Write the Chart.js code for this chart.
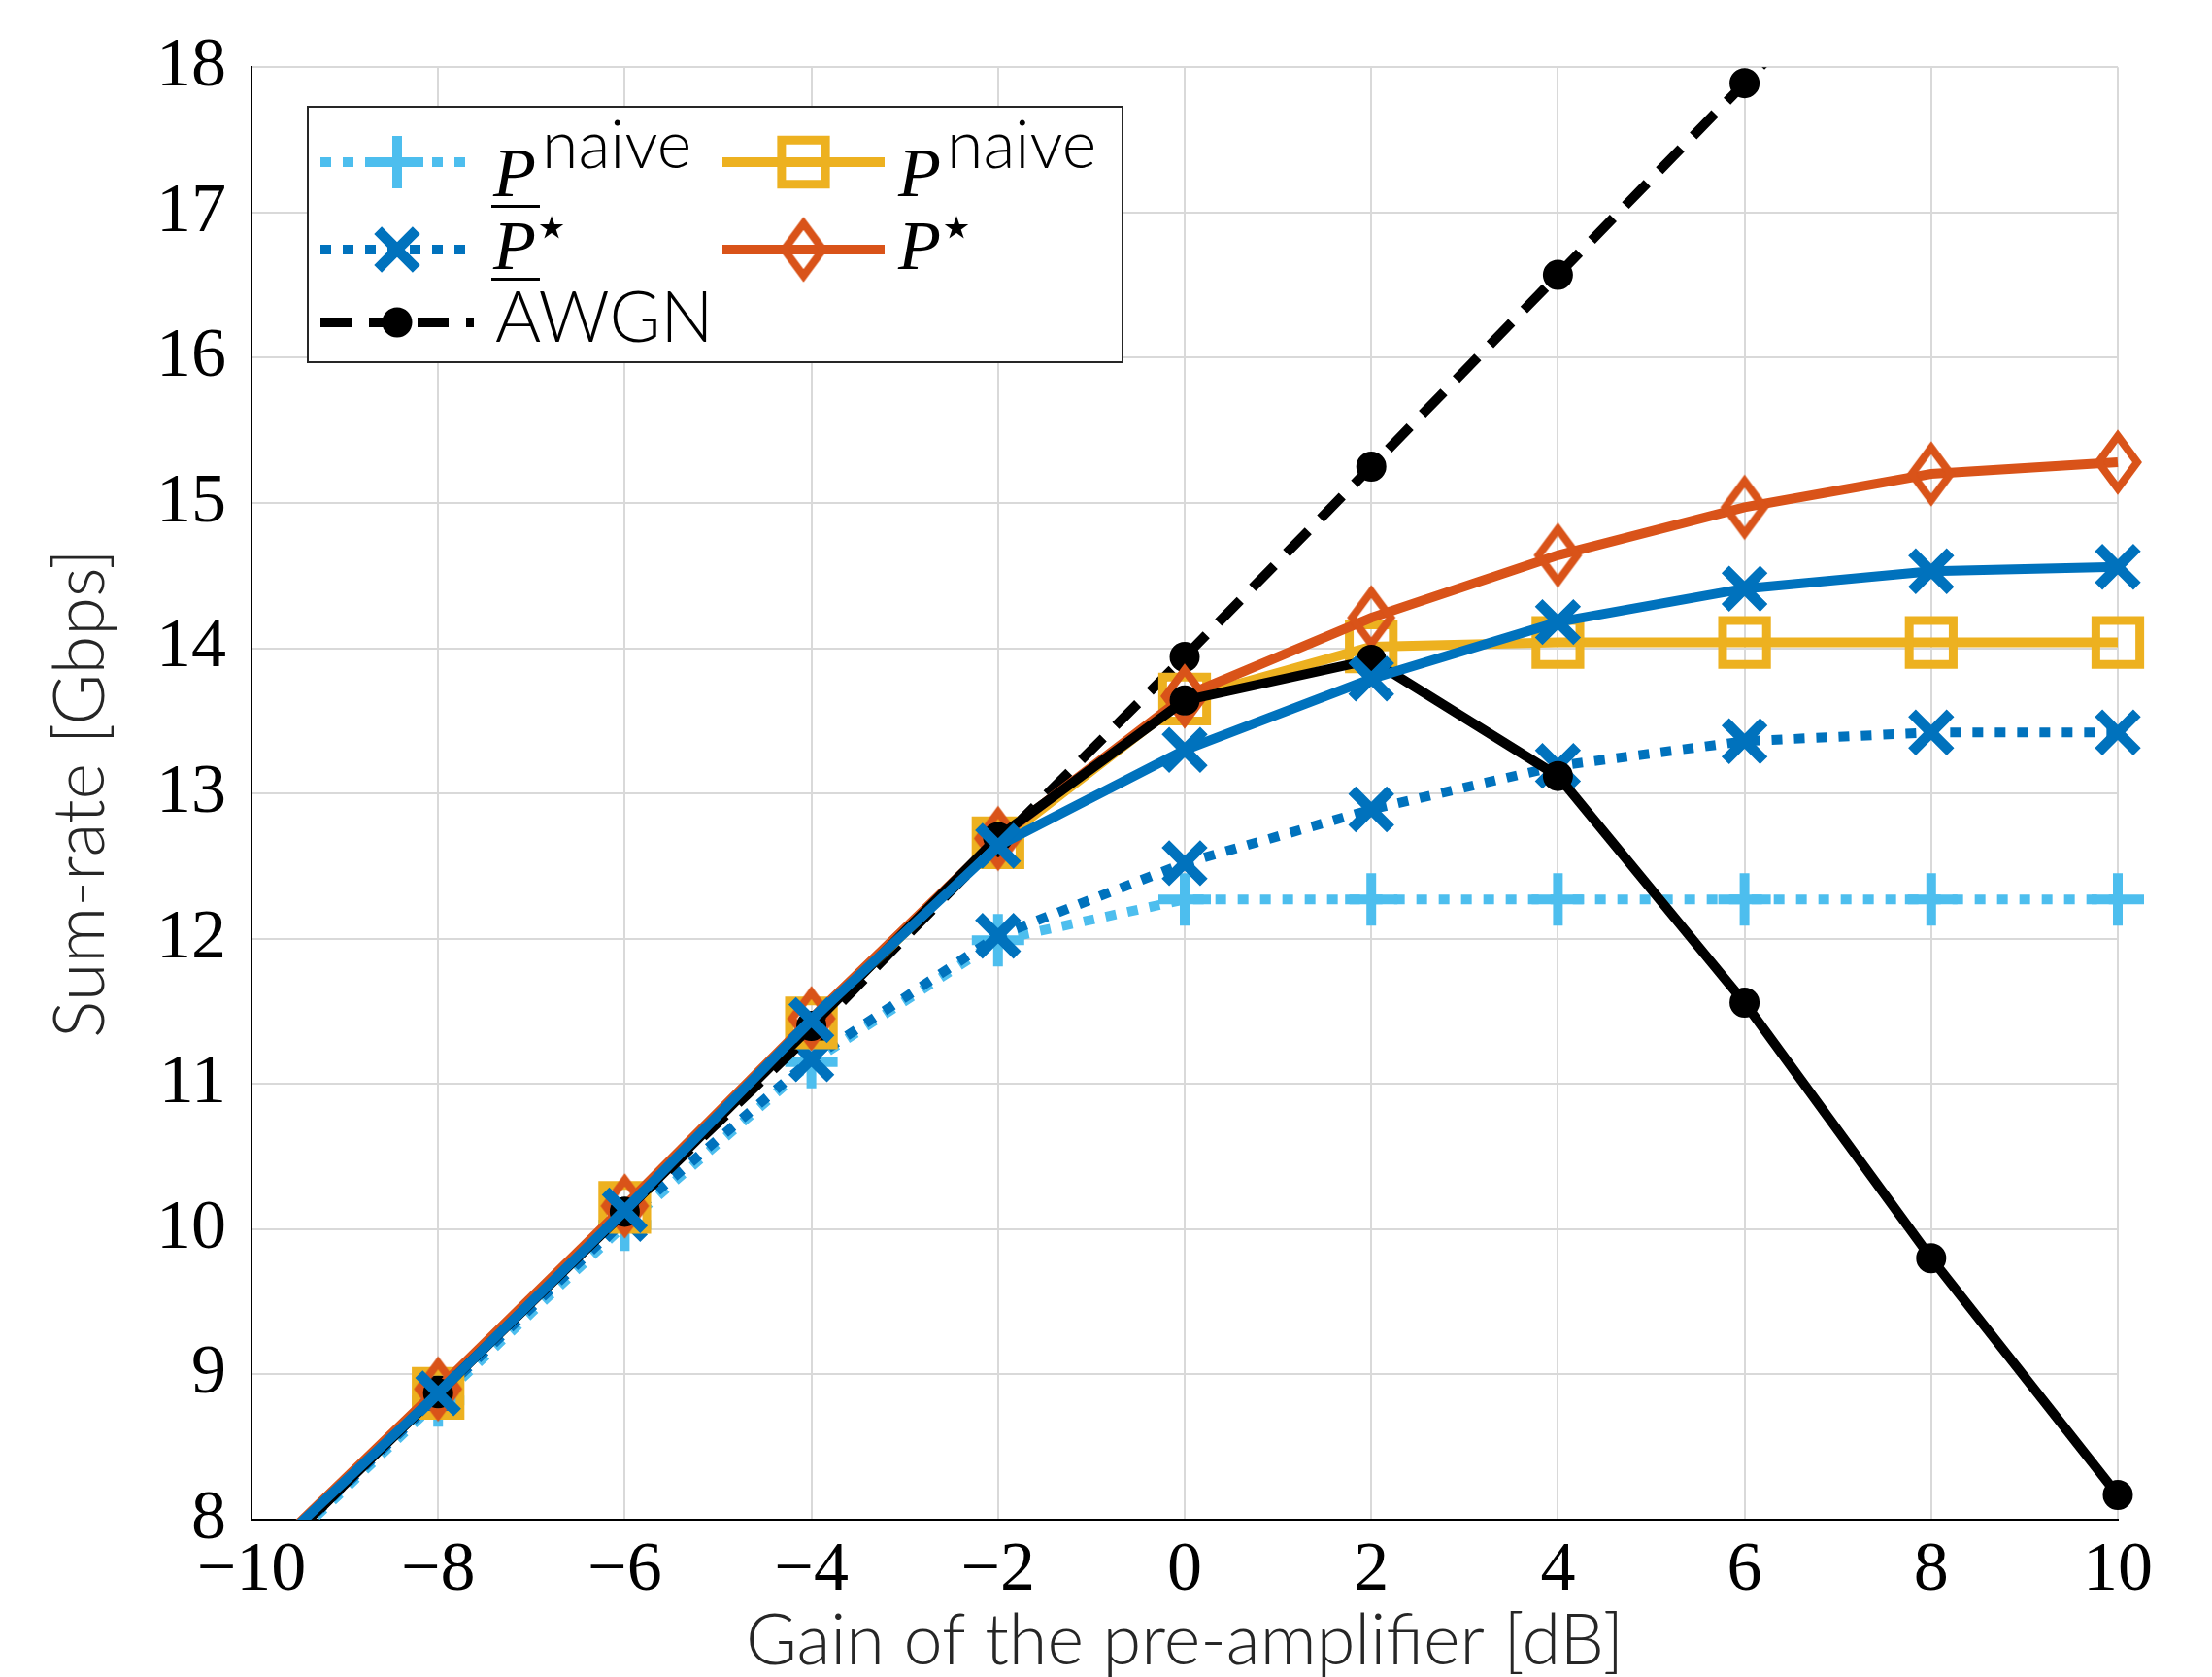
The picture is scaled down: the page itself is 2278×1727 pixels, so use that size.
<!DOCTYPE html>
<html>
<head>
<meta charset="utf-8">
<script src="https://cdn.jsdelivr.net/npm/chart.js@4.4.1/dist/chart.umd.min.js"></script>
<style>
  body { margin: 0; background: #fff; }
  canvas { display: block; }
</style>
</head>
<body>
<canvas id="myChart" width="2278" height="1727" style="width:2278px;height:1727px"></canvas>
<script>
// gain of the pre-amplifier [dB]
const gains = [-10, -8, -6, -4, -2, 0, 2, 4, 6, 8, 10];
const yTicks = [8, 9, 10, 11, 12, 13, 14, 15, 16, 17, 18];

// sum-rate [Gbps]
const lowerNaive = [7.60, 8.82, 10.03, 11.15, 11.99, 12.27, 12.27, 12.27, 12.27, 12.27, 12.27];
const lowerStar  = [7.62, 8.85, 10.07, 11.17, 12.02, 12.52, 12.89, 13.19, 13.36, 13.42, 13.42];
const awgn       = [7.60, 8.89, 10.12, 11.35, 12.66, 13.94, 15.25, 16.57, 17.89, 19.21, 20.53];
const naive      = [7.66, 8.87, 10.15, 11.42, 12.66, 13.65, 14.01, 14.04, 14.04, 14.04, 14.04];
const star       = [7.66, 8.90, 10.16, 11.45, 12.69, 13.67, 14.21, 14.64, 14.97, 15.20, 15.28];
const awgnReal   = [7.62, 8.87, 10.12, 11.40, 12.70, 13.64, 13.92, 13.12, 11.56, 9.80, 8.17];
const starReal   = [7.66, 8.87, 10.13, 11.44, 12.64, 13.30, 13.79, 14.18, 14.41, 14.53, 14.56];

const C_LBLUE = '#4DBEEE', C_BLUE = '#0072BD', C_YEL = '#EDB120', C_ORG = '#D95319';

// tall diamond marker like matlab's
function diamondMarker(color) {
  const c = document.createElement('canvas');
  c.width = 60; c.height = 84;
  const g = c.getContext('2d');
  g.strokeStyle = color;
  g.lineWidth = 8;
  g.lineJoin = 'miter';
  g.beginPath();
  g.moveTo(30, 42 - 27);
  g.lineTo(30 + 20, 42);
  g.lineTo(30, 42 + 27);
  g.lineTo(30 - 20, 42);
  g.closePath();
  g.stroke();
  return c;
}

const pts = arr => gains.map((x, i) => ({x: x, y: arr[i]}));
const clip = {left: 0, top: 0, right: 45, bottom: 0};

const datasets = [
  { label: 'P naive lower', data: pts(lowerNaive), borderColor: C_LBLUE, borderWidth: 10, borderDash: [11, 12],
    pointStyle: 'cross', pointRadius: 27, pointBorderWidth: 10, pointBorderColor: C_LBLUE, pointBackgroundColor: C_LBLUE,
    order: 6, clip: clip },
  { label: 'P star lower', data: pts(lowerStar), borderColor: C_BLUE, borderWidth: 10, borderDash: [11, 12],
    pointStyle: 'crossRot', pointRadius: 28, pointBorderWidth: 11, pointBorderColor: C_BLUE, pointBackgroundColor: C_BLUE,
    order: 5, clip: clip },
  { label: 'AWGN', data: pts(awgn), borderColor: '#000', borderWidth: 10, borderDash: [32, 18],
    pointStyle: 'circle', pointRadius: 14, pointBorderWidth: 3, pointBorderColor: '#000', pointBackgroundColor: '#000',
    order: 4, clip: clip },
  { label: 'P naive', data: pts(naive), borderColor: C_YEL, borderWidth: 10,
    pointStyle: 'rect', pointRadius: 32, pointBorderWidth: 9, pointBorderColor: C_YEL, pointBackgroundColor: 'rgba(0,0,0,0)',
    order: 3, clip: clip },
  { label: 'P star', data: pts(star), borderColor: C_ORG, borderWidth: 10,
    pointStyle: diamondMarker(C_ORG), pointRadius: 30, pointBorderWidth: 0, pointBorderColor: C_ORG,
    order: 2, clip: clip },
  { label: 'AWGN real', data: pts(awgnReal), borderColor: '#000', borderWidth: 10,
    pointStyle: 'circle', pointRadius: 14, pointBorderWidth: 3, pointBorderColor: '#000', pointBackgroundColor: '#000',
    order: 1, clip: clip },
  { label: 'P star real', data: pts(starReal), borderColor: C_BLUE, borderWidth: 10,
    pointStyle: 'crossRot', pointRadius: 28, pointBorderWidth: 11, pointBorderColor: C_BLUE, pointBackgroundColor: C_BLUE,
    order: 0, clip: clip }
];

// legend entries: dataset index, column, row, main text, superscript, underline
const legendEntries = [
  {ds: 0, col: 0, row: 0, sup: 'naive', under: true},
  {ds: 1, col: 0, row: 1, sup: '\u22C6', under: true},
  {ds: 2, col: 0, row: 2, text: 'AWGN'},
  {ds: 3, col: 1, row: 0, sup: 'naive', under: false},
  {ds: 4, col: 1, row: 1, sup: '\u22C6', under: false}
];

const matlabLegend = {
  id: 'matlabLegend',
  afterDraw(chart) {
    const ctx = chart.ctx;
    const box = {x: 317, y: 110, w: 839, h: 263};
    const cols = [{x0: 330, x1: 488, tx: 508}, {x0: 744, x1: 911, tx: 925}];
    const rowY = [167, 257, 332];
    const baseY = [202, 277, 352];
    ctx.save();
    ctx.fillStyle = '#fff';
    ctx.fillRect(box.x, box.y, box.w, box.h);
    ctx.strokeStyle = '#262626';
    ctx.lineWidth = 2;
    ctx.strokeRect(box.x, box.y, box.w, box.h);
    legendEntries.forEach(e => {
      const ds = datasets[e.ds];
      const c = cols[e.col], y = rowY[e.row];
      ctx.save();
      ctx.strokeStyle = ds.borderColor;
      ctx.lineWidth = ds.borderWidth;
      ctx.setLineDash(ds.borderDash || []);
      ctx.beginPath();
      ctx.moveTo(c.x0, y);
      ctx.lineTo(c.x1, y);
      ctx.stroke();
      ctx.setLineDash([]);
      ctx.strokeStyle = ds.pointBorderColor;
      ctx.fillStyle = ds.pointBackgroundColor || 'rgba(0,0,0,0)';
      ctx.lineWidth = ds.pointBorderWidth;
      Chart.helpers.drawPoint(ctx, {pointStyle: ds.pointStyle, radius: ds.pointRadius, rotation: 0,
        borderWidth: ds.pointBorderWidth}, (c.x0 + c.x1) / 2, y);
      ctx.restore();

      ctx.fillStyle = '#000';
      ctx.textBaseline = 'alphabetic';
      ctx.textAlign = 'left';
      const by = baseY[e.row];
      if (e.text) {
        ctx.font = '300 72px Lato';
        ctx.fillText(e.text, c.tx + 2, by);
        return;
      }
      ctx.font = 'italic 72px "Liberation Serif"';
      ctx.fillText('P', c.tx, by);
      const pw = ctx.measureText('P').width;
      if (e.sup === 'naive') {
        ctx.font = '300 68px Lato';
        ctx.fillText(e.sup, c.tx + pw + 6, by - 29);
      } else {
        ctx.font = '64px "DejaVu Sans"';
        ctx.fillText(e.sup, c.tx + pw - 4, by - 22);
      }
      if (e.under) {
        ctx.fillRect(c.tx - 2, by + 9, pw + 6, 3);
      }
    });
    ctx.restore();
  }
};

Chart.defaults.font.family = 'Lato';

new Chart(document.getElementById('myChart'), {
  type: 'line',
  data: { datasets: datasets },
  options: {
    responsive: false,
    devicePixelRatio: 1,
    animation: false,
    events: [],
    layout: { padding: { left: 0, top: 65, right: 97, bottom: 0 } },
    plugins: { legend: { display: false }, tooltip: { enabled: false } },
    scales: {
      x: {
        type: 'linear',
        min: -10, max: 10,
        afterFit: s => { s.height = 162; },
        afterBuildTicks: s => { s.ticks = gains.map(v => ({value: v})); },
        ticks: {
          padding: 10,
          color: '#000',
          font: { family: 'Liberation Serif', size: 72 },
          callback: v => v < 0 ? '\u2212' + Math.abs(v) : String(v)
        },
        grid: { color: '#d9d9d9', lineWidth: 2, drawTicks: false },
        border: { display: true, color: '#000', width: 2 },
        title: {
          display: true, text: 'Gain of the pre-amplifier [dB]', color: '#262626',
          font: { family: 'Lato', size: 72, weight: 300, lineHeight: 1 },
          padding: { top: 0, bottom: 0 }
        }
      },
      y: {
        min: 8, max: 18,
        afterFit: s => { s.width = 259; },
        afterBuildTicks: s => { s.ticks = yTicks.map(v => ({value: v})); },
        ticks: {
          padding: 26,
          color: '#000',
          font: { family: 'Liberation Serif', size: 72 }
        },
        grid: { color: '#d9d9d9', lineWidth: 2, drawTicks: false },
        border: { display: true, color: '#000', width: 2 },
        title: {
          display: true, text: 'Sum-rate [Gbps]', color: '#262626',
          font: { family: 'Lato', size: 72, weight: 300, lineHeight: 1 },
          padding: { top: 48, bottom: 0 }
        }
      }
    }
  },
  plugins: [matlabLegend]
});
</script>
</body>
</html>
